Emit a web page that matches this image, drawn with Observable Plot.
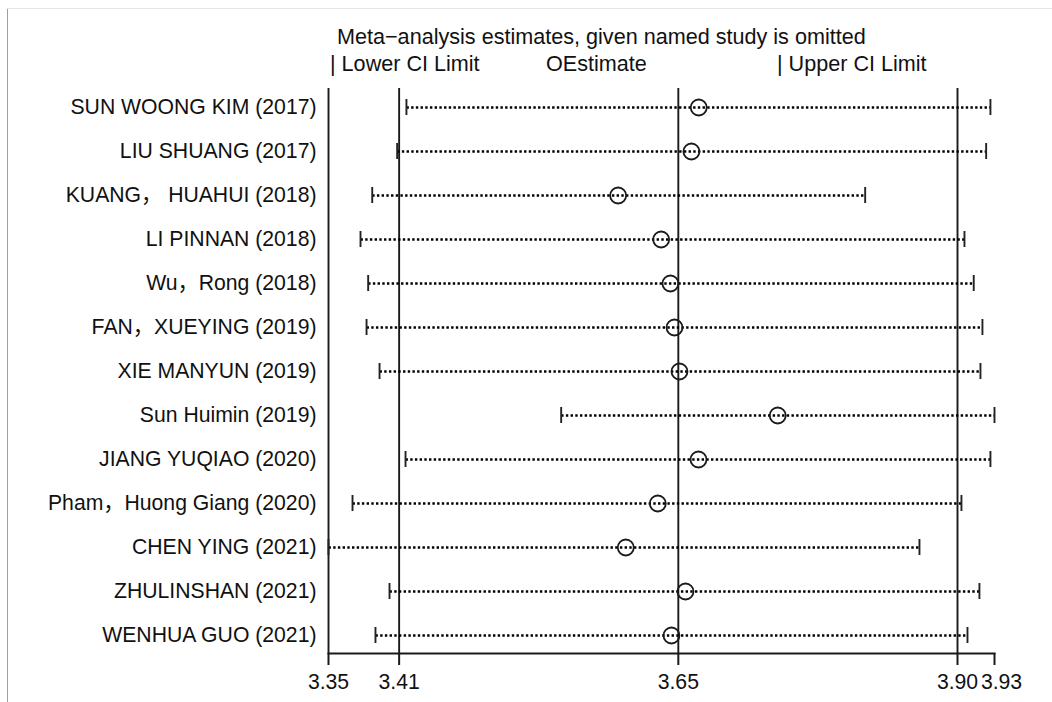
<!DOCTYPE html>
<html><head><meta charset="utf-8">
<script src="https://cdn.jsdelivr.net/npm/d3@7"></script>
<script src="https://cdn.jsdelivr.net/npm/@observablehq/plot@0.6"></script>
<style>
body{margin:0;background:#fff;}
#wrap{position:relative;width:1052px;height:702px;overflow:hidden;font-family:'Liberation Sans',Arial,'Noto Sans CJK SC',sans-serif;color:#111;}
.t{position:absolute;font-size:21.6px;white-space:nowrap;line-height:1;}
#chart{position:absolute;left:0;top:80px;}
</style></head><body>
<div id="wrap">
<div style="position:absolute;left:7px;top:8px;width:1px;height:694px;background:#a0a0a0"></div>
<div style="position:absolute;left:7px;top:8px;width:1045px;height:1px;background:#e6e6e6"></div>
<div class="t" id="title" style="left:337px;top:26px">Meta−analysis estimates, given named study is omitted</div>
<div class="t" style="left:330px;top:53px">| Lower CI Limit</div>
<div class="t" style="left:546px;top:53px">OEstimate</div>
<div class="t" style="left:777px;top:53px">| Upper CI Limit</div>
<div id="chart"></div>
</div>
<script>
const studies = [
  "SUN WOONG KIM (2017)",
  "LIU SHUANG (2017)",
  "KUANG， HUAHUI (2018)",
  "LI PINNAN (2018)",
  "Wu，Rong (2018)",
  "FAN，XUEYING (2019)",
  "XIE MANYUN (2019)",
  "Sun Huimin (2019)",
  "JIANG YUQIAO (2020)",
  "Pham，Huong Giang (2020)",
  "CHEN YING (2021)",
  "ZHULINSHAN (2021)",
  "WENHUA GUO (2021)"
];
const lowerCI   = [3.4201, 3.4121, 3.3906, 3.3805, 3.3871, 3.3857, 3.3969, 3.5535, 3.4193, 3.3736, 3.3529, 3.4055, 3.3934];
const estimates = [3.6721, 3.6658, 3.6026, 3.6397, 3.6477, 3.6512, 3.6555, 3.7402, 3.6719, 3.6368, 3.6092, 3.6607, 3.6486];
const upperCI   = [3.9236, 3.9199, 3.8156, 3.9012, 3.9092, 3.9167, 3.9150, 3.9271, 3.9236, 3.8986, 3.8624, 3.9141, 3.9038];

const xTickValues = [3.3529, 3.4138, 3.6545, 3.8952, 3.9271];
const xTickLabels = ["3.35", "3.41", "3.65", "3.90", "3.93"];
const refLines = xTickValues.slice(0, 4);

const rows = studies.map((s, i) => ({study: s, lo: lowerCI[i], est: estimates[i], hi: upperCI[i]}));
const lastTick = xTickValues[xTickValues.length - 1];
const fmtMain = d => d === lastTick ? "" : xTickLabels[xTickValues.indexOf(d)];
const fmtLast = d => xTickLabels[xTickValues.indexOf(d)];

const chart = Plot.plot({
  width: 1052, height: 622,
  marginLeft: 328, marginRight: 58, marginTop: 8, marginBottom: 49,
  style: {fontSize: "21.2px", fontFamily: "'Liberation Sans', Arial, 'Noto Sans CJK SC', sans-serif", color: "#111", background: "transparent"},
  x: {domain: [xTickValues[0], xTickValues[4]]},
  y: {type: "point", domain: studies, padding: 0, insetTop: 18.7, insetBottom: 18},
  marks: [
    Plot.ruleX(refLines, {stroke: "#1a1a1a", strokeWidth: 1.9}),
    Plot.link(rows, {x1: "lo", x2: "hi", y1: "study", y2: "study", stroke: "#000", strokeWidth: 2.6, strokeDasharray: "2.4,2.3"}),
    Plot.ruleX(rows, {x: "lo", y1: "study", y2: "study", insetTop: -8, insetBottom: -8, stroke: "#222", strokeWidth: 1.9}),
    Plot.ruleX(rows, {x: "hi", y1: "study", y2: "study", insetTop: -8, insetBottom: -8, stroke: "#222", strokeWidth: 1.9}),
    Plot.dot(rows, {x: "est", y: "study", r: 8, stroke: "#1a1a1a", strokeWidth: 1.8, fill: "none"}),
    Plot.frame({anchor: "bottom", stroke: "#1a1a1a", strokeWidth: 2}),
    Plot.axisY({tickSize: 0, tickPadding: 12, label: null}),
    Plot.axisX({ticks: xTickValues, tickFormat: fmtMain, tickSize: 12, tickPadding: 8, label: null, stroke: "#1a1a1a", strokeWidth: 2}),
    Plot.axisX({ticks: [lastTick], tickFormat: fmtLast, tickSize: 0, tickPadding: 20, dx: 7, label: null})
  ]
});
document.getElementById("chart").appendChild(chart);
</script>
</body></html>
